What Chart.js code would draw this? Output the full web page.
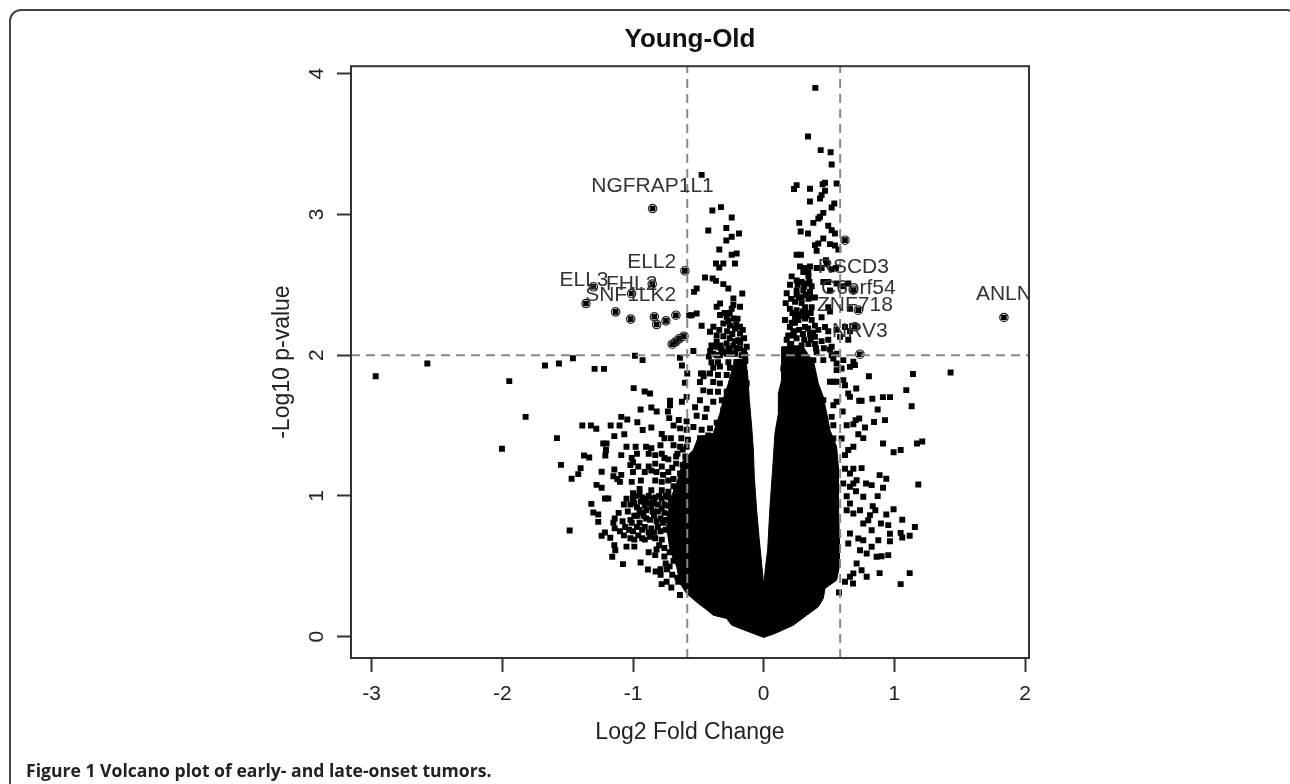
<!DOCTYPE html>
<html>
<head>
<meta charset="utf-8">
<title>Volcano plot</title>
<script src="https://cdn.jsdelivr.net/npm/chart.js@4"></script>
<style>
    html, body { margin: 0; padding: 0; background: #fff; overflow: hidden; }
    #frame { position: absolute; left: 9px; top: 9px; width: 1290px; height: 900px; border: 2px solid #444; border-radius: 12px; box-sizing: border-box; }
    #chart { position: absolute; left: 0; top: 0; }
    #caption { position: absolute; left: 26px; top: 758px; font: bold 17.6px "Open Sans", sans-serif; color: #222; white-space: nowrap; }
</style>
</head>
<body>
<div id="frame"></div>
<canvas id="chart" width="1290" height="784"></canvas>
<div id="caption">Figure 1 Volcano plot of early- and late-onset tumors.</div>
<script>
const xTicks = [-3, -2, -1, 0, 1, 2];
const yTicks = [0, 1, 2, 3, 4];
const xRange = [-3.158, 2.03];
const yRange = [-0.151, 4.053];
const foldCut = 0.585;
const pCut = 2;

// outline of the solid black core of the volcano
const massX = [-.125,-.110,-.092,-.079,-.072,-.054,-.036,-.016,0,.017,.030,.048,.068,.086,.112,.112,.137,.137,.30,.36,.380,.418,.456,.482,.507,.558,.571,.571,.578,.578,.558,.469,.456,.418,.329,.227,.086,0,-.080,-.245,-.284,-.386,-.449,-.500,-.590,-.640,-.666,-.717,-.743,-.717,-.666,-.615,-.539,-.500,-.386,-.335,-.30,-.27,-.22,-.13];
const massY = [1.894,1.681,1.491,1.326,1.136,.899,.710,.520,.367,.520,.615,.923,1.184,1.444,1.586,1.728,1.823,2.06,2.06,1.98,1.965,1.799,1.704,1.586,1.468,1.349,1.207,.970,.734,.497,.402,.343,.272,.213,.153,.082,.023,-.005,.023,.082,.130,.153,.201,.236,.307,.378,.497,.615,.781,.970,1.089,1.255,1.326,1.420,1.444,1.586,1.72,1.80,1.97,1.97];

const leftTail = [[-2.969,1.851],[-2.574,1.941],[-1.947,1.816],[-1.674,1.927],[-1.567,1.941],[-1.460,1.979],[-1.294,1.903],[-1.222,1.903],[-.985,1.996],[-.927,1.965],[-.641,1.982],[-.626,1.927],[-.585,1.870],[-.603,1.804],[-.995,1.766],[-.911,1.742],[-.870,1.728],[-1.822,1.562],[-2.003,1.335],[-1.582,1.411],[-1.388,1.501],[-1.322,1.501],[-1.281,1.477],[-1.171,1.501],[-1.103,1.501],[-1.090,1.562],[-1.044,1.543],[-.967,1.524],[-.942,1.614],[-.860,1.629],[-.819,1.600],[-.733,1.600],[-.717,1.645],[-.717,1.676],[-.723,1.553],[-.626,1.669],[-.590,1.704],[-.860,1.487],[-.926,1.468],[-1.067,1.439],[-1.143,1.425],[-1.202,1.373],[-1.228,1.373],[-1.207,1.326],[-1.212,1.288],[-1.375,1.288],[-1.335,1.273],[-1.551,1.221],[-1.401,1.198],[-1.419,1.155],[-1.470,1.122],[-1.240,1.172],[-1.143,1.188],[-1.279,1.079],[-1.240,1.058],[-1.215,.982],[-1.189,.982],[-1.319,.944],[-1.304,.883],[-1.266,.869],[-1.266,.816],[-1.485,.755],[-1.215,.741],[-1.240,.717],[-1.174,.703],[-1.143,.651],[-1.136,.615],[-1.159,.568],[-1.077,.516],[-.942,.528],[-.886,.478],[-.827,.464],[-.789,.440],[-.781,.374],[-.743,.390],[-.707,.350],[-.641,.296],[-.654,.390]];

const leftFringe = [[-1.05,1.35],[-.98,1.35],[-.97,1.30],[-1.01,1.27],[-1.09,1.29],[-.90,1.35],[-.86,1.34],[-.88,1.30],[-.83,1.29],[-.78,1.30],[-.76,1.27],[-.79,1.36],[-.76,1.41],[-.71,1.41],[-.78,1.44],[-.69,1.36],[-.64,1.35],[-.59,1.35],[-.63,1.41],[-.59,1.47],[-.64,1.48],[-.65,1.54],[-.59,1.53],[-.69,1.50],[-.67,1.28],[-.60,1.28],[-1.02,1.22],[-1.0,1.24],[-.96,1.21],[-.88,1.21],[-.83,1.23],[-.78,1.21],[-.73,1.26],[-.67,1.23],[-.62,1.22],[-1.0,1.17],[-.91,1.17],[-1.09,1.15],[-1.12,1.12],[-1.15,1.14],[-1.10,1.10],[-1.01,1.10],[-.94,1.11],[-.83,1.11],[-.78,1.10],[-.73,1.17],[-.69,1.12],[-.73,1.11],[-.64,1.16],[-.59,1.14],[-.61,1.09],[-.69,1.07],[-.95,1.05],[-1.0,1.02],[-.86,1.04],[-.78,1.04],[-.73,1.03],[-.67,1.03],[-1.05,.98],[-1.0,.98],[-.95,1.01],[-.90,.98],[-.83,.99],[-.78,.98],[-.73,.99],[-1.07,.94],[-1.02,.94],[-.97,.92],[-.91,.94],[-.86,.92],[-.81,.94],[-.76,.94],[-1.11,.88],[-1.04,.89],[-1.02,.83],[-1.14,.84],[-1.15,.81],[-.97,.86],[-.94,.88],[-.90,.84],[-.84,.86],[-.79,.84],[-1.01,.81],[-.95,.81],[-1.14,.77],[-1.10,.75],[-1.07,.72],[-1.0,.75],[-.91,.78],[-.86,.77],[-.81,.78],[-.77,.81],[-1.05,.64],[-.99,.69],[-.99,.64],[-.91,.69],[-.87,.71],[-.83,.70],[-.78,.69],[-.88,.60],[-.83,.58],[-.82,.62],[-.75,.52],[-.74,.48],[-.79,.48],[-.69,.62],[-.69,.54]];

const leftCluster = [[-.98,1.0],[-.93,.99],[-.88,1.0],[-.85,.98],[-.80,1.0],[-.75,1.0],[-.71,.97],[-.99,.95],[-.94,.96],[-.88,.95],[-.84,.95],[-.78,.91],[-.73,.93],[-.95,.90],[-.90,.90],[-.85,.89],[-.81,.89],[-.76,.88],[-.72,.87],[-.99,.86],[-.92,.86],[-.87,.83],[-.82,.82],[-.75,.83],[-1.08,.82],[-1.06,.78],[-1.03,.76],[-.97,.78],[-.93,.76],[-.88,.74],[-.84,.74],[-.79,.75],[-.75,.76],[-1.02,.70],[-.96,.72],[-.93,.70],[-.80,.65],[-.76,.63],[-.72,.60],[-.76,.57],[-.72,.50],[-.70,.44],[-.66,.42],[-.82,1.17],[-.86,1.18],[-.77,1.15],[-.70,1.20],[-.66,1.30],[-.62,1.33],[-.58,1.40]];

const leftColumn = [[-.386,2.01],[-.335,2.0],[-.283,2.01],[-.22,2.01],[-.17,2.0],[-.40,1.95],[-.35,1.95],[-.27,1.95],[-.21,1.95],[-.14,1.96],[-.386,1.91],[-.335,1.92],[-.258,1.91],[-.18,1.91],[-.462,1.87],[-.411,1.87],[-.35,1.86],[-.283,1.86],[-.22,1.85],[-.156,1.86],[-.488,1.81],[-.386,1.81],[-.335,1.80],[-.245,1.80],[-.18,1.80],[-.13,1.80],[-.462,1.75],[-.411,1.74],[-.35,1.74],[-.283,1.74],[-.232,1.74],[-.156,1.74],[-.488,1.68],[-.386,1.67],[-.32,1.68],[-.258,1.68],[-.18,1.68],[-.525,1.63],[-.437,1.62],[-.309,1.61],[-.232,1.62],[-.156,1.62],[-.513,1.57],[-.45,1.56],[-.283,1.56],[-.207,1.56],[-.13,1.56],[-.538,1.49],[-.475,1.47],[-.411,1.48],[-.36,1.52],[-.258,1.50],[-.194,1.50],[-.488,1.41],[-.424,1.43],[-.41,2.03],[-.36,2.0],[-.30,2.02],[-.26,2.04],[-.21,2.05],[-.15,2.03],[-.42,1.99],[-.33,2.05],[-.48,1.87],[-.46,1.85],[-.232,2.356],[-.181,2.344],[-.334,2.367],[-.36,2.344],[-.245,2.33],[-.513,2.296],[-.551,2.284],[-.334,2.285],[-.283,2.273],[-.232,2.261],[-.309,2.225],[-.258,2.21],[-.475,2.209],[-.181,2.202],[-.385,2.202],[-.411,2.166],[-.22,2.19],[-.181,2.154],[-.309,2.135],[-.194,2.107],[-.36,2.095],[-.283,2.083],[-.232,2.07],[-.373,2.06],[-.32,2.035],[-.181,2.048],[-.538,2.03],[-.245,2.01],[-.143,2.0],[-.30,2.30],[-.26,2.30],[-.20,2.26],[-.27,2.24],[-.21,2.22],[-.34,2.18],[-.28,2.17],[-.24,2.15],[-.16,2.18],[-.36,2.14],[-.26,2.12],[-.22,2.10],[-.15,2.12],[-.33,2.07],[-.27,2.05],[-.40,2.07],[-.18,2.09],[-.13,2.06]];

const leftTop = [[-.475,3.281],[-.393,3.028],[-.327,3.052],[-.245,2.978],[-.424,2.886],[-.286,2.903],[-.189,2.865],[-.245,2.841],[-.286,2.815],[-.340,2.751],[-.207,2.723],[-.245,2.713],[-.220,2.652],[-.365,2.652],[-.309,2.652],[-.340,2.623],[-.449,2.552],[-.391,2.545],[-.365,2.528],[-.309,2.505],[-.271,2.474],[-.164,2.438],[-.232,2.403],[-.513,2.474],[-.533,2.450],[-.570,2.284]];

const rightTop = [[.395,3.899],[.339,3.554],[.436,3.457],[.512,3.442],[.520,3.355],[.558,3.220],[.469,3.225],[.451,3.215],[.354,3.182],[.252,3.208],[.232,3.180],[.469,3.168],[.443,3.137],[.431,3.113],[.354,3.092],[.540,3.078],[.520,3.049],[.456,3.011],[.431,2.983],[.418,2.971],[.380,2.940],[.272,2.940],[.283,2.879],[.339,2.865],[.494,2.919],[.520,2.888],[.545,2.865],[.456,2.829],[.418,2.794],[.392,2.782],[.405,2.741],[.507,2.789],[.545,2.779],[.571,2.751],[.252,2.713],[.285,2.713],[.476,2.675]];

const rightDense = [[.278,2.63],[.316,2.62],[.354,2.63],[.303,2.59],[.342,2.59],[.405,2.62],[.443,2.62],[.482,2.65],[.52,2.61],[.553,2.62],[.214,2.56],[.252,2.53],[.29,2.52],[.342,2.56],[.329,2.51],[.367,2.49],[.456,2.52],[.494,2.52],[.558,2.51],[.609,2.49],[.647,2.51],[.201,2.50],[.176,2.44],[.252,2.46],[.303,2.46],[.354,2.45],[.392,2.41],[.507,2.46],[.29,2.41],[.252,2.43],[.342,2.40],[.168,2.37],[.24,2.38],[.29,2.37],[.252,2.32],[.316,2.34],[.367,2.34],[.342,2.30],[.29,2.28],[.24,2.27],[.214,2.23],[.494,2.34],[.443,2.27],[.507,2.31],[.66,2.33],[.163,2.25],[.24,2.23],[.265,2.25],[.316,2.26],[.367,2.25],[.392,2.21],[.316,2.20],[.188,2.14],[.227,2.17],[.252,2.12],[.354,2.15],[.418,2.18],[.392,2.13],[.469,2.20],[.494,2.17],[.558,2.18],[.622,2.20],[.66,2.17],[.647,2.11],[.584,2.13],[.494,2.11],[.176,2.11],[.201,2.07],[.29,2.07],[.342,2.08],[.392,2.08],[.443,2.10],[.52,2.06],[.558,2.01],[.507,2.04],[.405,2.02],[.24,2.01],[.188,2.01],[.163,1.953],[.150,1.906],[.188,1.87],[.214,1.917],[.278,1.988],[.329,1.977],[.38,1.965],[.456,1.965],[.533,1.977],[.609,1.965],[.596,1.906],[.686,1.953],[.698,1.93],[.66,1.917],[.558,1.894],[.20,2.33],[.22,2.30],[.26,2.29],[.30,2.31],[.33,2.28],[.36,2.30],[.21,2.40],[.27,2.41],[.32,2.43],[.36,2.41],[.26,2.50],[.31,2.49],[.35,2.52],[.20,2.20],[.23,2.14],[.27,2.18],[.30,2.15],[.34,2.19],[.38,2.16],[.21,2.08],[.25,2.05],[.31,2.11],[.36,2.11],[.40,2.05],[.46,2.05],[.52,2.00]];

const rightTail = [[1.430,1.877],[1.142,1.866],[.805,1.851],[1.091,1.752],[1.132,1.638],[.966,1.702],[.912,1.702],[.831,1.690],[.749,1.676],[.731,1.676],[.872,1.614],[.708,1.764],[.928,1.539],[.844,1.525],[.775,1.487],[.731,1.551],[.703,1.539],[.686,1.510],[.635,1.503],[.604,1.600],[1.213,1.387],[1.173,1.373],[1.048,1.326],[.994,1.311],[.913,1.373],[.762,1.411],[.724,1.439],[.686,1.349],[.647,1.326],[.622,1.290],[.749,1.198],[.686,1.193],[.660,1.160],[.622,1.193],[.887,1.148],[.938,1.122],[1.183,1.082],[.913,1.058],[.872,.999],[.826,1.077],[.783,1.089],[.762,.994],[.711,1.112],[.686,1.089],[.706,1.034],[.834,.928],[.854,.899],[.994,.906],[.938,.869],[1.060,.831],[1.157,.779],[.953,.793],[.897,.805],[.813,.864],[.800,.828],[.826,.757],[.762,.805],[.966,.731],[1.048,.738],[1.060,.705],[1.117,.717],[.966,.679],[.877,.686],[.826,.639],[.902,.572],[.953,.580],[.864,.568],[.788,.592],[.762,.686],[.724,.698],[.737,.615],[.711,.520],[.749,.473],[.788,.426],[.887,.452],[1.117,.452],[1.048,.374],[.683,.378],[.622,.390],[.576,.314],[.660,.426],[.686,.45],[.647,.663],[.660,.734],[.686,.876],[.737,.899],[.660,.947],[.635,.998],[.660,1.065],[.609,1.089],[.635,.899],[.533,1.811],[.507,1.811],[.558,1.811],[.609,1.823],[.622,1.787],[.647,1.728],[.660,1.704],[.558,1.669],[.533,1.645],[.456,1.681],[.558,1.941],[.52,1.562],[.533,1.503],[.596,1.408],[.533,1.408]];

// the genes R circled
const circledX = [-.850,-.603,-.853,-1.011,-1.304,-1.360,-1.133,-1.018,-.837,-.819,-.748,-.672,-.700,-.674,-.646,-.610,.622,.686,.724,.698,.736,1.838];
const circledY = [3.042,2.599,2.505,2.438,2.486,2.367,2.308,2.256,2.273,2.218,2.244,2.284,2.078,2.095,2.116,2.135,2.817,2.462,2.320,2.202,2.007,2.268];

const geneNames = ['NGFRAP1L1', 'ELL2', 'ELL3', 'FHL2', 'SNF1LK2', 'RSCD3', 'C6orf54', 'ZNF718', 'NRV3', 'ANLN'];
const geneX = [-.851, -.857, -1.375, -1.010, -1.018, .686, .724, .698, .736, 1.838];
const geneY = [3.203, 2.663, 2.533, 2.505, 2.428, 2.626, 2.477, 2.356, 2.171, 2.436];

const allPoints = [].concat(leftTail, leftFringe, leftCluster, leftColumn, leftTop, rightTop, rightDense, rightTail);

// box round the plot plus the gene names, both clipped to the plot like R does
const volcanoExtras = {
    id: 'volcanoExtras',
    afterDatasetsDraw(chart) {
        const { ctx, chartArea: a, scales } = chart;
        ctx.save();
        ctx.beginPath();
        ctx.rect(a.left, a.top, a.right - a.left, a.bottom - a.top);
        ctx.clip();
        ctx.font = '21px "Liberation Sans", sans-serif';
        ctx.fillStyle = '#333';
        ctx.textAlign = 'center';
        ctx.textBaseline = 'middle';
        geneNames.forEach(function (name, i) {
            ctx.fillText(name, scales.x.getPixelForValue(geneX[i]), scales.y.getPixelForValue(geneY[i]));
        });
        ctx.restore();
        ctx.save();
        ctx.strokeStyle = '#333';
        ctx.lineWidth = 2;
        ctx.strokeRect(a.left, a.top, a.right - a.left, a.bottom - a.top);
        ctx.restore();
    }
};

const tickFont = { family: '"Liberation Sans", sans-serif', size: 21 };
const titleFont = { family: '"Liberation Sans", sans-serif', size: 23 };

new Chart(document.getElementById('chart').getContext('2d'), {
    type: 'scatter',
    data: {
        datasets: [
            {
                label: 'x cut low',
                data: [{ x: -foldCut, y: yRange[0] }, { x: -foldCut, y: yRange[1] }],
                showLine: true, pointRadius: 0, borderColor: '#888', borderWidth: 2, borderDash: [9, 6], order: 1
            },
            {
                label: 'x cut high',
                data: [{ x: foldCut, y: yRange[0] }, { x: foldCut, y: yRange[1] }],
                showLine: true, pointRadius: 0, borderColor: '#888', borderWidth: 2, borderDash: [9, 6], order: 1
            },
            {
                label: 'p cut',
                data: [{ x: xRange[0], y: pCut }, { x: xRange[1], y: pCut }],
                showLine: true, pointRadius: 0, borderColor: '#888', borderWidth: 2, borderDash: [9, 6], order: 1
            },
            {
                label: 'circled',
                data: circledX.map((x, i) => ({ x: x, y: circledY[i] })),
                pointStyle: 'circle', pointRadius: 4.2, backgroundColor: 'transparent', borderColor: '#222', borderWidth: 1.2, order: 2
            },
            {
                label: 'circled centres',
                data: circledX.map((x, i) => ({ x: x, y: circledY[i] })),
                pointStyle: 'rect', pointRadius: 4, backgroundColor: '#000', borderWidth: 0, order: 3
            },
            {
                label: 'genes',
                data: allPoints.map(p => ({ x: p[0], y: p[1] })),
                pointStyle: 'rect', pointRadius: 4.2, backgroundColor: '#000', borderWidth: 0, order: 4
            },
            {
                label: 'core',
                data: massX.map((x, i) => ({ x: x, y: massY[i] })),
                showLine: true, fill: 'shape', pointRadius: 0, borderColor: '#000', borderWidth: 1, backgroundColor: '#000', order: 5
            }
        ]
    },
    options: {
        responsive: false,
        animation: false,
        layout: { padding: { right: 261, left: 0, top: 0, bottom: 0 } },
        plugins: {
            legend: { display: false },
            tooltip: { enabled: false },
            title: {
                display: true,
                text: 'Young-Old',
                fullSize: false,
                color: '#111',
                font: { family: '"Liberation Sans", sans-serif', size: 26, weight: 'bold' },
                padding: { top: 24, bottom: 11 }
            }
        },
        scales: {
            x: {
                type: 'linear',
                min: xRange[0],
                max: xRange[1],
                afterBuildTicks: function (axis) { axis.ticks = xTicks.map(v => ({ value: v })); },
                afterFit: function (axis) { axis.height = 126; },
                border: { display: false },
                grid: { drawOnChartArea: false, tickLength: 14, tickWidth: 2, tickColor: '#333' },
                ticks: { color: '#222', font: tickFont, padding: 10, maxRotation: 0, autoSkip: false },
                title: { display: true, text: 'Log2 Fold Change', color: '#222', font: titleFont, padding: { top: 0, bottom: 38 } }
            },
            y: {
                type: 'linear',
                min: yRange[0],
                max: yRange[1],
                afterBuildTicks: function (axis) { axis.ticks = yTicks.map(v => ({ value: v })); },
                afterFit: function (axis) { axis.width = 351; },
                border: { display: false },
                grid: { drawOnChartArea: false, tickLength: 14, tickWidth: 2, tickColor: '#333' },
                ticks: { color: '#222', font: tickFont, padding: 14, minRotation: 90, maxRotation: 90, crossAlign: 'center', autoSkip: false },
                title: { display: true, text: '-Log10 p-value', color: '#222', font: titleFont, padding: { top: 269, bottom: 0 } }
            }
        }
    },
    plugins: [volcanoExtras]
});
</script>
</body>
</html>
